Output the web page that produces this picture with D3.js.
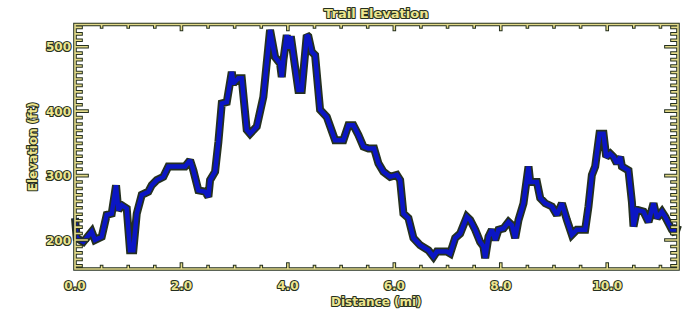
<!DOCTYPE html>
<html>
<head>
<meta charset="utf-8">
<script src="https://cdn.jsdelivr.net/npm/d3@7"></script>
<style>
	body { margin: 0; background: #ffffff; }
	svg { display: block; }
	.lbl {
		font-family: 'DejaVu Sans', sans-serif;
		font-weight: bold;
		fill: #ede58f;
		stroke: #25301f;
		stroke-width: 2.2px;
		paint-order: stroke;
		stroke-linejoin: round;
	}
</style>
</head>
<body>
<div id="chart"></div>
<script>
var distance = [
	0, 0.032, 0.156, 0.314, 0.376, 0.502, 0.596, 0.690, 0.771, 0.814, 0.878, 0.972,
	1.034, 1.096, 1.160, 1.254, 1.378, 1.442, 1.536, 1.660, 1.754, 1.848, 2.068, 2.162,
	2.224, 2.318, 2.444, 2.506, 2.538, 2.632, 2.694, 2.758, 2.852, 2.946, 2.976, 3.070,
	3.133, 3.227, 3.289, 3.415, 3.539, 3.665, 3.759, 3.853, 3.885, 3.915, 3.979, 4.009,
	4.055, 4.135, 4.197, 4.261, 4.355, 4.385, 4.449, 4.511, 4.605, 4.731, 4.887, 5.043,
	5.137, 5.231, 5.325, 5.419, 5.513, 5.620, 5.701, 5.795, 5.921, 6.047, 6.109, 6.171,
	6.265, 6.359, 6.485, 6.641, 6.735, 6.799, 6.987, 7.049, 7.143, 7.237, 7.363, 7.425,
	7.519, 7.613, 7.675, 7.707, 7.769, 7.833, 7.895, 7.957, 8.051, 8.145, 8.209, 8.271,
	8.333, 8.427, 8.521, 8.553, 8.679, 8.741, 8.835, 8.961, 9.055, 9.149, 9.243, 9.336,
	9.430, 9.586, 9.648, 9.712, 9.774, 9.855, 9.930, 9.981, 10.056, 10.118, 10.182, 10.244,
	10.276, 10.400, 10.464, 10.494, 10.558, 10.682, 10.776, 10.870, 10.934, 11.028, 11.090, 11.152,
	11.216, 11.278, 11.33
];

var elevation = [
	234, 203, 197, 213, 200, 205, 239, 241, 285, 246, 254, 249,
	184, 184, 241, 270, 275, 285, 293, 298, 314, 314, 314, 324,
	308, 277, 275, 267, 293, 306, 352, 412, 414, 461, 443, 451,
	451, 371, 365, 376, 422, 526, 484, 474, 453, 479, 518, 497,
	516, 469, 433, 433, 518, 516, 492, 487, 402, 391, 355, 355,
	378, 378, 363, 345, 342, 342, 319, 306, 298, 301, 293, 241,
	234, 203, 192, 184, 174, 182, 182, 179, 203, 210, 236, 231,
	216, 197, 190, 172, 205, 216, 200, 216, 218, 228, 223, 203,
	231, 257, 314, 290, 290, 265, 257, 252, 239, 257, 231, 208,
	216, 216, 252, 301, 314, 365, 365, 329, 334, 329, 319, 329,
	314, 308, 259, 221, 247, 244, 228, 257, 234, 244, 236, 226,
	216, 210, 223
];

var xTicks = [ 0, 2, 4, 6, 8, 10 ];
var yTicks = [ 200, 300, 400, 500 ];

var width = 700, height = 320;
var margin = { top: 24.5, right: 22, bottom: 51, left: 75 };

var axisColor = '#e3da8a';
var darkColor = '#25301f';

var svg = d3.select( '#chart' ).append( 'svg' )
	.attr( 'width', width )
	.attr( 'height', height );

var x = d3.scaleLinear()
	.domain( [ 0, 11.33 ] )
	.range( [ margin.left, width - margin.right ] );

var y = d3.scaleLinear()
	.domain( [ 155, 534.5 ] )
	.range( [ height - margin.bottom, margin.top ] );

var points = distance.map( function ( d, i ) {
	return { d: d, e: elevation[i] };
} );

var line = d3.line()
	.x( function ( p ) { return x( p.d ); } )
	.y( function ( p ) { return y( p.e ); } );

// thick dark outline first, then the blue trace on top
svg.append( 'path' )
	.datum( points )
	.attr( 'd', line )
	.attr( 'fill', 'none' )
	.attr( 'stroke', darkColor )
	.attr( 'stroke-width', 8 )
	.attr( 'stroke-linejoin', 'miter' )
	.attr( 'stroke-miterlimit', 2 );

svg.append( 'path' )
	.datum( points )
	.attr( 'd', line )
	.attr( 'fill', 'none' )
	.attr( 'stroke', '#0b16c4' )
	.attr( 'stroke-width', 4.5 )
	.attr( 'stroke-linejoin', 'miter' )
	.attr( 'stroke-miterlimit', 2 );

// IDL style box: ticks on all four sides, drawn twice (outline + fill)
var plotW = width - margin.left - margin.right;
var plotH = height - margin.top - margin.bottom;
var xMajorLen = plotH * 0.02, xMinorLen = xMajorLen / 2;
var yMajorLen = plotW * 0.02, yMinorLen = yMajorLen / 2;

var xMinor = d3.range( 0, 11.33, 0.5 );
var yMinor = d3.range( 160, 534, 10 );

function axisPath() {
	var p = d3.path();
	var x0 = margin.left, x1 = width - margin.right;
	var y0 = margin.top, y1 = height - margin.bottom;
	p.rect( x0, y0, x1 - x0, y1 - y0 );
	xMinor.forEach( function ( v ) {
		var len = v % 2 === 0 ? xMajorLen : xMinorLen;
		var px = x( v );
		p.moveTo( px, y1 ); p.lineTo( px, y1 - len );
		p.moveTo( px, y0 ); p.lineTo( px, y0 + len );
	} );
	yMinor.forEach( function ( v ) {
		var len = v % 100 === 0 ? yMajorLen : yMinorLen;
		var py = y( v );
		p.moveTo( x0, py ); p.lineTo( x0 + len, py );
		p.moveTo( x1, py ); p.lineTo( x1 - len, py );
	} );
	return p.toString();
}

svg.append( 'path' )
	.attr( 'd', axisPath() )
	.attr( 'fill', 'none' )
	.attr( 'stroke', darkColor )
	.attr( 'stroke-width', 3.6 )
	.attr( 'stroke-linecap', 'square' );

svg.append( 'path' )
	.attr( 'd', axisPath() )
	.attr( 'fill', 'none' )
	.attr( 'stroke', axisColor )
	.attr( 'stroke-width', 1.6 )
	.attr( 'stroke-linecap', 'square' );

// tick labels
svg.selectAll( 'text.xt' )
	.data( xTicks )
	.enter()
	.append( 'text' )
	.attr( 'class', 'lbl xt' )
	.attr( 'x', function ( d ) { return x( d ); } )
	.attr( 'y', height - margin.bottom + 21 )
	.attr( 'text-anchor', 'middle' )
	.style( 'font-size', '12px' )
	.text( function ( d ) { return d.toFixed( 1 ); } );

svg.selectAll( 'text.yt' )
	.data( yTicks )
	.enter()
	.append( 'text' )
	.attr( 'class', 'lbl yt' )
	.attr( 'x', margin.left - 4 )
	.attr( 'y', function ( d ) { return y( d ) + 4.5; } )
	.attr( 'text-anchor', 'end' )
	.style( 'font-size', '12px' )
	.text( function ( d ) { return d; } );

svg.append( 'text' )
	.attr( 'class', 'lbl' )
	.attr( 'x', x( 5.66 ) )
	.attr( 'y', 18 )
	.attr( 'text-anchor', 'middle' )
	.style( 'font-size', '13px' )
	.text( 'Trail Elevation' );

svg.append( 'text' )
	.attr( 'class', 'lbl' )
	.attr( 'x', x( 5.66 ) )
	.attr( 'y', 306 )
	.attr( 'text-anchor', 'middle' )
	.style( 'font-size', '12px' )
	.text( 'Distance (mi)' );

svg.append( 'text' )
	.attr( 'class', 'lbl' )
	.attr( 'transform', 'translate(37,' + ( margin.top + plotH / 2 ) + ') rotate(-90)' )
	.attr( 'text-anchor', 'middle' )
	.style( 'font-size', '12px' )
	.text( 'Elevation (ft)' );
</script>
</body>
</html>
